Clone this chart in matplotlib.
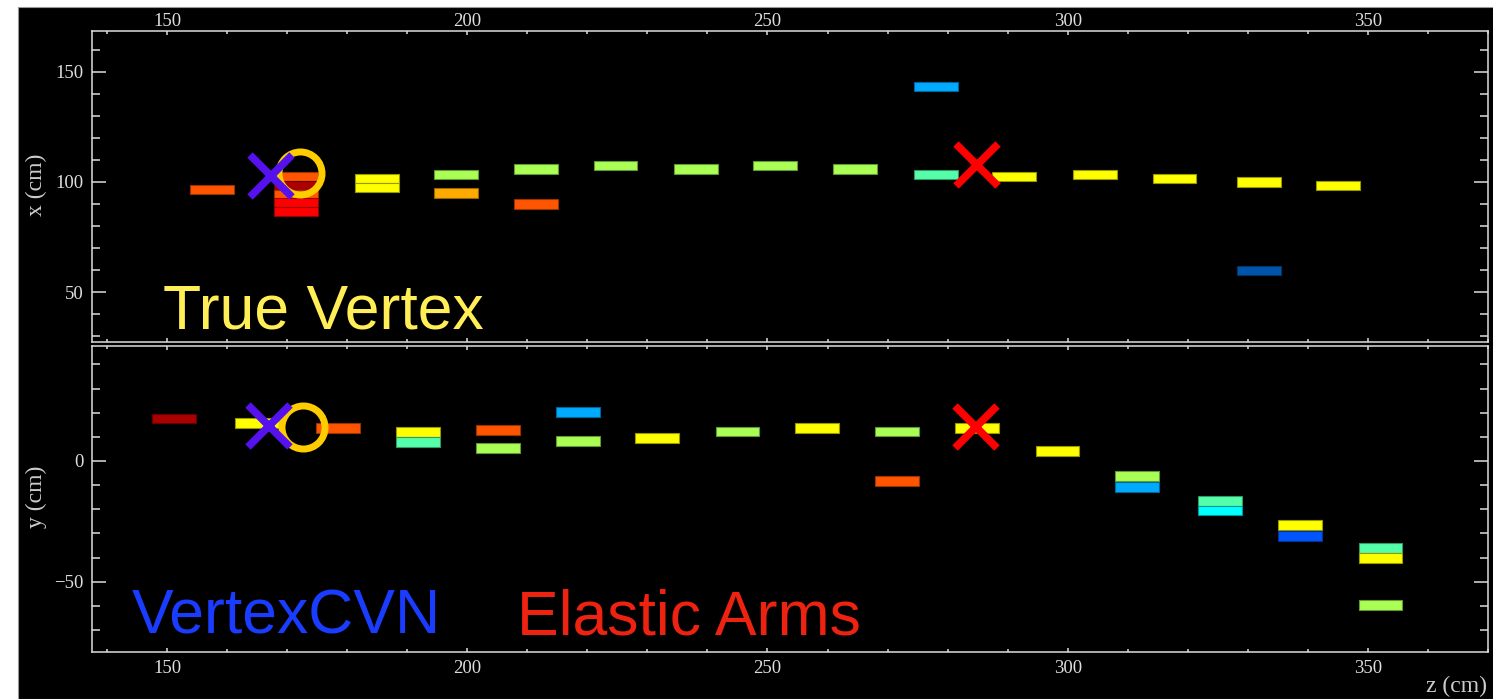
import matplotlib
matplotlib.use("Agg")
import matplotlib.pyplot as plt
import matplotlib.colors as mcolors
from matplotlib.patches import Rectangle
from matplotlib.ticker import MultipleLocator
import numpy as np

plt.rcParams['font.family'] = ['Liberation Serif', 'DejaVu Serif']

# hits in the top (x-z) view
xz_z = [157.5, 171.5, 171.5, 171.5, 171.5, 171.5, 184.9, 184.9, 198.1, 198.1,
        211.5, 211.5, 224.7, 238.1, 251.3, 264.6, 278.0, 278.0, 291.1, 304.6,
        317.8, 331.9, 331.9, 345.0]
xz_x = [96.6, 102.5, 98.4, 94.5, 90.6, 86.8, 101.6, 97.5, 103.2, 95.0,
        105.9, 90.0, 107.3, 105.9, 107.3, 105.9, 143.2, 103.2, 102.7, 103.6,
        101.8, 100.0, 60.0, 98.6]
xz_col = ['#ff5500', '#ff5500', '#aa0000', '#ff5500', '#ff0000', '#ff0000', '#ffff00', '#ffff00',
          '#aaff55', '#ffaa00', '#aaff55', '#ff5500', '#aaff55', '#aaff55', '#aaff55', '#aaff55',
          '#00aaff', '#55ffaa', '#ffff00', '#ffff00', '#ffff00', '#ffff00', '#0055aa', '#ffff00']

# hits in the bottom (y-z) view
yz_z = [151.2, 165.0, 178.5, 191.8, 191.8, 205.1, 205.1, 218.4, 218.4, 231.6,
        245.0, 258.2, 271.6, 271.6, 284.9, 298.3, 311.5, 311.5, 325.4, 325.4,
        338.7, 338.7, 352.1, 352.1, 352.1]
yz_y = [17.6, 15.9, 13.5, 12.0, 7.9, 12.8, 5.4, 20.1, 8.1, 9.5,
        12.2, 13.5, 12.2, -8.3, 13.5, 4.3, -10.6, -6.4, -16.4, -20.5,
        -26.5, -31.1, -36.0, -40.2, -59.7]
yz_col = ['#aa0000', '#ffff00', '#ff5500', '#ffff00', '#55ffaa', '#ff5500', '#aaff55', '#00aaff',
          '#aaff55', '#ffff00', '#aaff55', '#ffff00', '#aaff55', '#ff5500', '#ffff00', '#ffff00',
          '#00aaff', '#aaff55', '#55ffaa', '#00ffff', '#ffff00', '#0055ff', '#55ffaa', '#ffff00',
          '#aaff55']

# vertices: (z, transverse) per view
true_vtx_xz = (172.1, 104.1)
true_vtx_yz = (172.6, 14.1)
cvn_vtx_xz = (167.3, 102.7)
cvn_vtx_yz = (167.0, 14.5)
ea_vtx_xz = (284.9, 107.7)
ea_vtx_yz = (284.8, 14.1)

CELL_W = 7.3
CELL_H = 4.1
FG = '#dddddd'
W, H = 1493, 699


def dark(c):
    return tuple(np.array(mcolors.to_rgb(c)) * 0.6)


def draw_view(ax, z, t, cols, true_v, cvn_v, ea_v, ylim, ymaj):
    ax.set_facecolor('black')
    ax.bar(z, CELL_H, width=CELL_W, bottom=np.array(t) - CELL_H / 2, color=cols,
           edgecolor=[dark(c) for c in cols], linewidth=0.8, zorder=2)
    ax.plot(*true_v, 'o', ms=31, mfc='none', mec='#ffcc00', mew=5, zorder=3)
    ax.plot(*cvn_v, 'x', ms=30, mec='#5511ee', mew=5.5, zorder=4)
    ax.plot(*ea_v, 'x', ms=30, mec='#ff0000', mew=5.5, zorder=4)
    ax.set_xlim(137.5, 370)
    ax.set_ylim(*ylim)
    ax.xaxis.set_major_locator(MultipleLocator(50))
    ax.xaxis.set_minor_locator(MultipleLocator(10))
    ax.yaxis.set_major_locator(MultipleLocator(ymaj))
    ax.yaxis.set_minor_locator(MultipleLocator(10))
    for s in ax.spines.values():
        s.set_color(FG)
        s.set_linewidth(1.1)
    ax.tick_params(axis='y', which='major', direction='in', length=10, width=1.1,
                   left=True, right=True, colors=FG, pad=6, labelsize=13.5)
    ax.tick_params(axis='y', which='minor', direction='in', length=6, width=1.1,
                   left=True, right=True, colors=FG)
    ax.tick_params(axis='x', which='major', direction='in', length=3, width=1.1,
                   top=True, bottom=True, colors=FG, labelsize=13.5)
    ax.tick_params(axis='x', which='minor', direction='in', length=2, width=1.1,
                   top=True, bottom=True, colors=FG)


fig = plt.figure(figsize=(W / 100, H / 100), dpi=100, facecolor='white')
fig.patches.append(Rectangle((18 / W, 0), 1, 1 - 7 / H, transform=fig.transFigure,
                             facecolor='black', edgecolor='#999999', linewidth=0.8, zorder=-1))

ax1 = fig.add_axes([92 / W, 1 - 342 / H, (1488 - 92) / W, (342 - 31) / H])
ax2 = fig.add_axes([92 / W, 1 - 652 / H, (1488 - 92) / W, (652 - 346) / H])

draw_view(ax1, xz_z, xz_x, xz_col, true_vtx_xz, cvn_vtx_xz, ea_vtx_xz, (27.3, 168.6), 50)
draw_view(ax2, yz_z, yz_y, yz_col, true_vtx_yz, cvn_vtx_yz, ea_vtx_yz, (-79.1, 47.6), 50)

ax1.tick_params(axis='x', which='major', labeltop=True, labelbottom=False, pad=1)
ax2.tick_params(axis='x', which='major', labeltop=False, labelbottom=True, pad=6)

big = dict(fontsize=45, family=['Liberation Sans', 'DejaVu Sans'], va='baseline')
ax1.text(0.051, 0.045, 'True Vertex', transform=ax1.transAxes, color='#ffee55', **big)
ax2.text(0.0287, 0.062, 'VertexCVN', transform=ax2.transAxes, color='#1a3cff', **big)
ax2.text(0.3044, 0.058, 'Elastic Arms', transform=ax2.transAxes, color='#ee2211', **big)

lab_kw = dict(fontsize=17, color='#cccccc')
fig.text(36 / W, 1 - 185 / H, 'x (cm)', rotation=90, ha='center', va='center', **lab_kw)
fig.text(36 / W, 1 - 497 / H, 'y (cm)', rotation=90, ha='center', va='center', **lab_kw)
fig.text(1487 / W, 1 - 692 / H, 'z (cm)', ha='right', va='baseline', **lab_kw)

fig.savefig('out.png', dpi=100, facecolor=fig.get_facecolor())
